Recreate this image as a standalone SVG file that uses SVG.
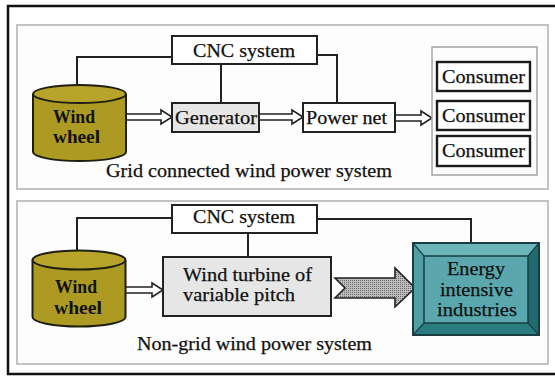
<svg xmlns="http://www.w3.org/2000/svg" width="555" height="376" viewBox="0 0 555 376">
  <style>
    .panel { fill: #fdfdfd; stroke: #b4b4b4; stroke-width: 1.6; }
    .box { fill: #ffffff; stroke: #222; stroke-width: 2; }
    .gbox { fill: #e6e6e6; stroke: #222; stroke-width: 2; }
    .cbox { fill: #ffffff; stroke: #1a1a1a; stroke-width: 2.4; }
    .cyl { fill: #ad9a22; stroke: #1e1e10; stroke-width: 2; }
    .cyltop { fill: #b8a42a; stroke: #1e1e10; stroke-width: 2; }
    .wire { fill: none; stroke: #222; stroke-width: 2; }
    .harrow { fill: #ffffff; stroke: #222; stroke-width: 1.6; stroke-linejoin: miter; }
    text { font-family: "Liberation Serif", "Times New Roman", serif; font-size: 18.5px; fill: #111; stroke: #111; stroke-width: 0.25; text-anchor: middle; }
    .b { font-weight: bold; stroke-width: 0; }
  </style>
  <defs>
    <pattern id="dots" width="2" height="2" patternUnits="userSpaceOnUse">
      <rect width="2" height="2" fill="#bdbdbd"/>
      <rect width="1" height="1" fill="#6a6a6a"/>
    </pattern>
  </defs>

  <!-- outer frame -->
  <rect x="8" y="6" width="560" height="368" fill="#ffffff" stroke="#111" stroke-width="2.5"/>

  <!-- panels -->
  <rect class="panel" x="17" y="25" width="531" height="164"/>
  <rect class="panel" x="17" y="201" width="531" height="163"/>

  <!-- connectors -->
  <g id="connectors">
    <!-- grid connected -->
    <polyline class="wire" points="77,84 77,57 172,57"/>
    <polyline class="wire" points="317,55 337,55 337,103"/>
    <line class="wire" x1="221" y1="64" x2="221" y2="103"/>
    <path class="harrow" d="M126,114 H161 V110 L172,117 L161,124 V120 H126 Z"/>
    <path class="harrow" d="M259,114 H292 V110 L303,117 L292,124 V120 H259 Z"/>
    <path class="harrow" d="M395,115 H421 V111 L432,118 L421,125 V121 H395 Z"/>
    <!-- non-grid -->
    <polyline class="wire" points="77,251 77,218 172,218"/>
    <polyline class="wire" points="317,219 471,219 471,247"/>
    <line class="wire" x1="248" y1="233" x2="248" y2="257"/>
    <path class="harrow" d="M125,287 H152 V283 L163,290 L152,297 V293 H125 Z"/>
    <path d="M335,278 H395 V268 L415,288 L395,307 V298 H335 L345,288 Z" fill="url(#dots)" stroke="#222" stroke-width="1.6" stroke-linejoin="miter"/>
  </g>

  <!-- grid connected nodes -->
  <g id="wheel1">
    <path class="cyl" d="M33,94 V152 A46.5,9 0 0 0 126,152 V94"/>
    <ellipse class="cyltop" cx="79.5" cy="94" rx="46.5" ry="9"/>
    <text class="b" x="74" y="123" textLength="42" lengthAdjust="spacingAndGlyphs">Wind</text>
    <text class="b" x="76.5" y="143" textLength="47" lengthAdjust="spacingAndGlyphs">wheel</text>
  </g>
  <g id="cnc1">
    <rect class="box" x="172" y="36" width="145" height="28"/>
    <text x="244" y="57" textLength="102" lengthAdjust="spacingAndGlyphs">CNC system</text>
  </g>
  <g id="generator">
    <rect class="gbox" x="172" y="103" width="87" height="29"/>
    <text x="216" y="124" textLength="82" lengthAdjust="spacingAndGlyphs">Generator</text>
  </g>
  <g id="powernet">
    <rect class="box" x="303" y="103" width="92" height="29"/>
    <text x="346.5" y="124" textLength="81" lengthAdjust="spacingAndGlyphs">Power net</text>
  </g>
  <g id="consumers">
    <rect x="432" y="47" width="105" height="128" fill="#fdfdfd" stroke="#a8a8a8" stroke-width="1.6"/>
    <rect class="cbox" x="437" y="62" width="93" height="29"/>
    <text x="483.5" y="83" textLength="83" lengthAdjust="spacingAndGlyphs">Consumer</text>
    <rect class="cbox" x="437" y="101" width="93" height="29"/>
    <text x="483.5" y="122" textLength="83" lengthAdjust="spacingAndGlyphs">Consumer</text>
    <rect class="cbox" x="437" y="136" width="93" height="30"/>
    <text x="483.5" y="157" textLength="83" lengthAdjust="spacingAndGlyphs">Consumer</text>
  </g>
  <text x="249" y="177" textLength="286" lengthAdjust="spacingAndGlyphs">Grid connected wind power system</text>

  <!-- non-grid nodes -->
  <g id="wheel2">
    <path class="cyl" d="M32.5,260 V317 A46.5,9.5 0 0 0 125.5,317 V260"/>
    <ellipse class="cyltop" cx="79" cy="260" rx="46.5" ry="9.5"/>
    <text class="b" x="76" y="293" textLength="42" lengthAdjust="spacingAndGlyphs">Wind</text>
    <text class="b" x="78" y="314" textLength="48" lengthAdjust="spacingAndGlyphs">wheel</text>
  </g>
  <g id="cnc2">
    <rect class="box" x="172" y="205" width="145" height="28"/>
    <text x="244" y="223" textLength="102" lengthAdjust="spacingAndGlyphs">CNC system</text>
  </g>
  <g id="turbine">
    <rect class="gbox" x="163" y="257" width="168" height="59"/>
    <text x="247.5" y="281" textLength="129" lengthAdjust="spacingAndGlyphs">Wind turbine of</text>
    <text x="239" y="301" textLength="112" lengthAdjust="spacingAndGlyphs">variable pitch</text>
  </g>
  <g id="energy">
    <polygon points="413,243 539,243 528,256 424,256" fill="#6cb6bb"/>
    <polygon points="413,243 424,256 424,323 413,335" fill="#4f9fa5"/>
    <polygon points="539,243 539,335 528,323 528,256" fill="#1e6b70"/>
    <polygon points="413,335 424,323 528,323 539,335" fill="#2b7c81"/>
    <rect x="424" y="256" width="104" height="67" fill="#5aa8ae" stroke="#1b3d40" stroke-width="1.5"/>
    <rect x="413" y="243" width="126" height="92" fill="none" stroke="#1b3d40" stroke-width="2"/>
    <line x1="413" y1="243" x2="424" y2="256" stroke="#1b3d40" stroke-width="1.2"/>
    <line x1="539" y1="243" x2="528" y2="256" stroke="#1b3d40" stroke-width="1.2"/>
    <line x1="413" y1="335" x2="424" y2="323" stroke="#1b3d40" stroke-width="1.2"/>
    <line x1="539" y1="335" x2="528" y2="323" stroke="#1b3d40" stroke-width="1.2"/>
    <text x="476" y="275" textLength="58" lengthAdjust="spacingAndGlyphs">Energy</text>
    <text x="476.5" y="296" textLength="73" lengthAdjust="spacingAndGlyphs">intensive</text>
    <text x="477" y="316" textLength="80" lengthAdjust="spacingAndGlyphs">industries</text>
  </g>
  <text x="254.5" y="350" textLength="235" lengthAdjust="spacingAndGlyphs">Non-grid wind power system</text>
</svg>
